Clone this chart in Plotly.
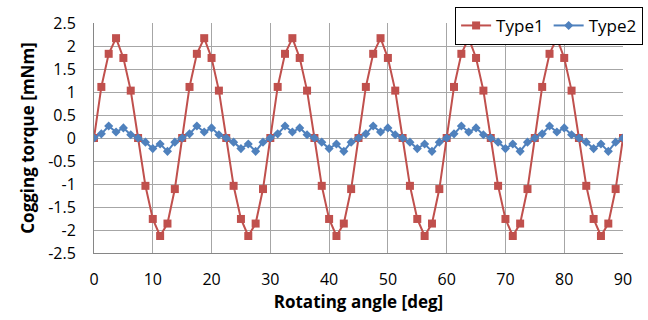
import plotly.graph_objects as go

step = 1.25
angles = [i * step for i in range(73)]
type1_period = [0, 1.11, 1.83, 2.17, 1.74, 1.03, 0.0, -1.04, -1.76, -2.13, -1.86, -1.11]
type2_period = [0, 0.09, 0.26, 0.13, 0.22, 0.07, 0.0, -0.09, -0.23, -0.13, -0.29, -0.09]
type1 = [type1_period[i % 12] for i in range(73)]
type2 = [type2_period[i % 12] for i in range(73)]

x_ticks = [0, 10, 20, 30, 40, 50, 60, 70, 80, 90]
y_ticks = [2.5, 2, 1.5, 1, 0.5, 0, -0.5, -1, -1.5, -2, -2.5]
y_ticktext = ["2.5", "2", "1.5", "1", "0.5", "0", "-0.5", "-1", "-1.5", "-2", "-2.5"]

red = "#C0504D"
blue = "#4F81BD"
font_family = "Open Sans, Lato, sans-serif"

fig = go.Figure()
fig.add_trace(go.Scatter(x=angles, y=type1, mode="lines+markers", name="Type1",
                         line=dict(color=red, width=2),
                         marker=dict(symbol="square", size=8, color=red)))
fig.add_trace(go.Scatter(x=angles, y=type2, mode="lines+markers", name="Type2",
                         line=dict(color=blue, width=2),
                         marker=dict(symbol="diamond", size=7, color=blue)))

fig.update_layout(
    width=648, height=320,
    margin=dict(l=94, r=25, t=23, b=67, autoexpand=False),
    paper_bgcolor="white", plot_bgcolor="white",
    font=dict(family=font_family, size=16, color="black"),
    legend=dict(orientation="h", x=1.038, xanchor="right", y=1.07, yanchor="top",
                bordercolor="black", borderwidth=1, bgcolor="white",
                font=dict(size=17), itemwidth=30, tracegroupgap=0),
    showlegend=True,
)
fig.update_xaxes(range=[0, 90], tickvals=x_ticks, showgrid=True, gridcolor="#A6A6A6",
                 gridwidth=1, showline=True, linecolor="#868686", zeroline=False,
                 ticks="", automargin=False, ticklabelstandoff=12,
                 title=dict(text="<b>Rotating angle [deg]</b>", font=dict(size=17), standoff=5))
fig.update_yaxes(range=[-2.5, 2.5], tickvals=y_ticks, ticktext=y_ticktext, showgrid=True,
                 gridcolor="#A6A6A6", gridwidth=1, showline=True, linecolor="#868686",
                 zeroline=False, ticks="", automargin=False, ticklabelstandoff=14,
                 title=dict(text="<b>Cogging torque [mNm]</b>", font=dict(size=17), standoff=9))

fig.write_html("out.html", config={"displayModeBar": False},
               post_script="document.body.style.margin='0';")
